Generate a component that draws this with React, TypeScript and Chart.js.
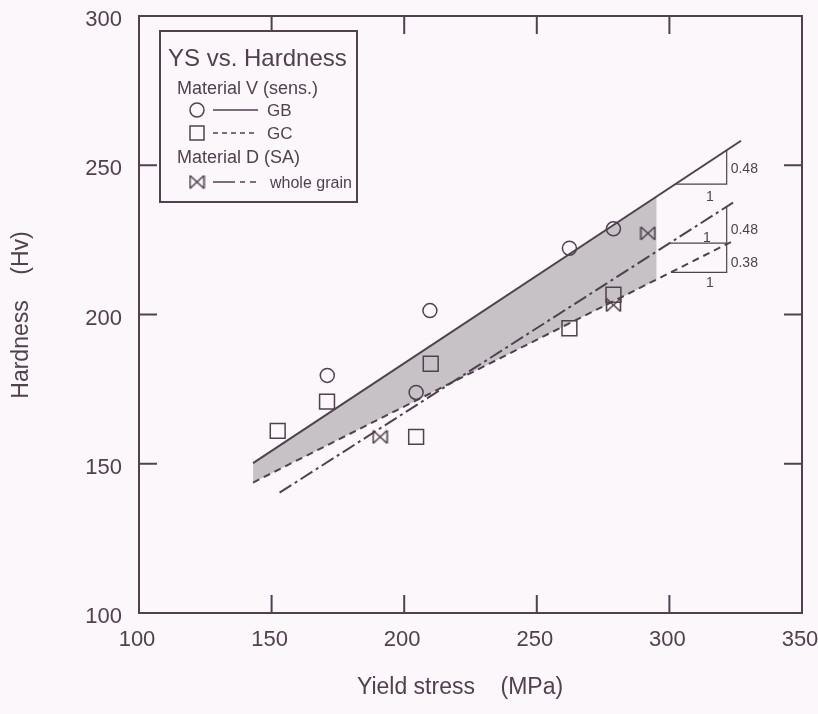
import React, { useEffect, useRef } from 'react';
import { Chart, registerables } from 'chart.js';

Chart.register(...registerables);

const INK = '#52414c';
const BG = '#fbf7fa';
const SHADE = '#c6c2c6';
const FONT = '"Liberation Sans", Arial, sans-serif';

// Material V (sens.) — grain boundary (GB)
const gbStress = [171, 209.7, 204.5, 262.3, 278.9];
const gbHardness = [179.6, 201.3, 173.9, 222.2, 228.7];

// Material V (sens.) — grain centre (GC)
const gcStress = [152.3, 170.9, 210, 204.5, 262.3, 278.9];
const gcHardness = [161, 170.8, 183.5, 159, 195.4, 206.6];

// Material D (SA) — whole grain
const wgStress = [190.9, 278.9, 291.9];
const wgHardness = [159, 203.2, 227.2];

// Fitted lines, end points
const gbFitStress = [143, 327];
const gbFitHardness = [150.2, 258.2];
const gcFitStress = [143, 323.5];
const gcFitHardness = [143.7, 224.4];
const wgFitStress = [153, 324];
const wgFitHardness = [140.3, 237.5];

// Shaded band between the GB and GC fits
const bandStress = [143, 295.2];
const bandUpper = [150.2, 239.5];
const bandLower = [143.7, 211.6];

// Slope triangles: run along the base, rise up the right leg
const triStart = [302.3, 300.1, 300.6];
const triEnd = [321.6, 321.6, 321.6];
const triBase = [243.7, 223.9, 214.1];
const triTop = [255.0, 236.1, 223.5];
const riseLabels = ['0.48', '0.48', '0.38'];
const riseLabelHardness = [248.8, 228.1, 217.2];
const runLabels = ['1', '1', '1'];
const runLabelStress = [315.3, 314.1, 315.3];
const runLabelHardness = [239.4, 225.7, 210.5];

const xTickValues = [100, 150, 200, 250, 300, 350];
const yTickValues = [100, 150, 200, 250, 300];

const pts = (xs: number[], ys: number[]) => xs.map((v, i) => ({ x: v, y: ys[i] }));

function makeBowtie(): HTMLCanvasElement {
  const c = document.createElement('canvas');
  c.width = 17;
  c.height = 15;
  const g = c.getContext('2d')!;
  g.strokeStyle = INK;
  g.lineWidth = 1.6;
  g.beginPath();
  g.moveTo(1.5, 1);
  g.lineTo(1.5, 14);
  g.moveTo(15.5, 1);
  g.lineTo(15.5, 14);
  g.moveTo(1.5, 1);
  g.lineTo(15.5, 14);
  g.moveTo(1.5, 14);
  g.lineTo(15.5, 1);
  g.stroke();
  return c;
}

export default function App() {
  const ref = useRef<HTMLCanvasElement>(null);

  useEffect(() => {
    const canvas = ref.current!;
    const bowtie = makeBowtie();

    const line = (ctx: CanvasRenderingContext2D, x1: number, y1: number, x2: number, y2: number) => {
      ctx.beginPath();
      ctx.moveTo(x1, y1);
      ctx.lineTo(x2, y2);
      ctx.stroke();
    };

    const decor = {
      id: 'decor',
      beforeDraw(chart: any) {
        const ctx = chart.ctx;
        ctx.save();
        ctx.fillStyle = BG;
        ctx.fillRect(0, 0, chart.width, chart.height);
        ctx.restore();
      },
      afterDraw(chart: any) {
        const { ctx, chartArea: a } = chart;
        const xs = chart.scales.x;
        const ys = chart.scales.y;
        ctx.save();
        ctx.strokeStyle = INK;
        ctx.fillStyle = INK;

        // frame and inward ticks
        ctx.lineWidth = 2;
        ctx.strokeRect(a.left, a.top, a.right - a.left, a.bottom - a.top);
        const TL = 18;
        xTickValues.slice(1, -1).forEach((v) => {
          const px = xs.getPixelForValue(v);
          line(ctx, px, a.bottom, px, a.bottom - TL);
          line(ctx, px, a.top, px, a.top + TL);
        });
        yTickValues.slice(1, -1).forEach((v) => {
          const py = ys.getPixelForValue(v);
          line(ctx, a.left, py, a.left + TL, py);
          line(ctx, a.right, py, a.right - TL, py);
        });

        // slope annotations
        ctx.font = `14px ${FONT}`;
        ctx.textBaseline = 'middle';
        riseLabels.forEach((t, i) => {
          ctx.textAlign = 'left';
          ctx.fillText(t, xs.getPixelForValue(triEnd[i]) + 4, ys.getPixelForValue(riseLabelHardness[i]));
          ctx.textAlign = 'center';
          ctx.fillText(runLabels[i], xs.getPixelForValue(runLabelStress[i]), ys.getPixelForValue(runLabelHardness[i]));
        });

        // axis titles
        ctx.font = `23px ${FONT}`;
        ctx.textAlign = 'center';
        ctx.textBaseline = 'middle';
        ctx.fillText('Yield stress    (MPa)', 460, 688);
        ctx.save();
        ctx.translate(22, 315);
        ctx.rotate(-Math.PI / 2);
        ctx.fillText('Hardness    (Hv)', 0, 0);
        ctx.restore();

        // legend box
        ctx.lineWidth = 2;
        ctx.fillStyle = BG;
        ctx.fillRect(160, 31, 197, 171);
        ctx.strokeRect(160, 31, 197, 171);
        ctx.fillStyle = INK;
        ctx.textAlign = 'left';
        ctx.textBaseline = 'alphabetic';
        ctx.font = `24px ${FONT}`;
        ctx.fillText('YS vs. Hardness', 168, 66);
        ctx.font = `18px ${FONT}`;
        ctx.fillText('Material V (sens.)', 177, 94);
        ctx.fillText('Material D (SA)', 177, 163);
        ctx.font = `17px ${FONT}`;
        ctx.fillText('GB', 267, 116);
        ctx.fillText('GC', 267, 139);
        ctx.font = `16px ${FONT}`;
        ctx.fillText('whole grain', 270, 188);

        ctx.lineWidth = 1.5;
        ctx.beginPath();
        ctx.arc(197, 110, 7, 0, Math.PI * 2);
        ctx.stroke();
        ctx.strokeRect(190, 126, 14, 14);
        ctx.drawImage(bowtie, 197 - 8.5, 182 - 7.5);

        ctx.lineWidth = 1.6;
        line(ctx, 213, 110, 258, 110);
        ctx.setLineDash([5, 4]);
        line(ctx, 213, 133, 258, 133);
        ctx.setLineDash([22, 5, 5, 5, 6, 5]);
        line(ctx, 213, 182, 257, 182);
        ctx.setLineDash([]);
        ctx.restore();
      },
    };

    const fitLine = (xs: number[], ys: number[], dash: number[]) => ({
      data: pts(xs, ys),
      showLine: true,
      borderColor: INK,
      borderWidth: 2,
      borderDash: dash,
      pointRadius: 0,
      fill: false,
    });

    const triangle = (i: number) => ({
      data: [
        { x: triStart[i], y: triBase[i] },
        { x: triEnd[i], y: triBase[i] },
        { x: triEnd[i], y: triTop[i] },
      ],
      showLine: true,
      borderColor: INK,
      borderWidth: 1.2,
      pointRadius: 0,
      fill: false,
    });

    const chart = new Chart(canvas, {
      type: 'line',
      data: {
        datasets: [
          {
            data: pts(bandStress, bandUpper),
            showLine: true,
            borderWidth: 0,
            borderColor: 'rgba(0,0,0,0)',
            pointRadius: 0,
            fill: false,
          },
          {
            data: pts(bandStress, bandLower),
            showLine: true,
            borderWidth: 0,
            borderColor: 'rgba(0,0,0,0)',
            backgroundColor: SHADE,
            pointRadius: 0,
            fill: '-1',
          },
          fitLine(gbFitStress, gbFitHardness, []),
          fitLine(gcFitStress, gcFitHardness, [7, 5]),
          fitLine(wgFitStress, wgFitHardness, [14, 4, 3, 4]),
          triangle(0),
          triangle(1),
          triangle(2),
          {
            label: 'GB',
            data: pts(gbStress, gbHardness),
            showLine: false,
            pointStyle: 'circle',
            pointRadius: 7,
            pointBorderWidth: 1.5,
            pointBorderColor: INK,
            pointBackgroundColor: 'rgba(0,0,0,0)',
          },
          {
            label: 'GC',
            data: pts(gcStress, gcHardness),
            showLine: false,
            pointStyle: 'rect',
            pointRadius: 10.5,
            pointBorderWidth: 1.5,
            pointBorderColor: INK,
            pointBackgroundColor: 'rgba(0,0,0,0)',
          },
          {
            label: 'whole grain',
            data: pts(wgStress, wgHardness),
            showLine: false,
            pointStyle: bowtie,
            pointRadius: 8,
          },
        ] as any,
      },
      options: {
        animation: false,
        responsive: false,
        events: [],
        layout: { padding: { top: 16, right: 16, left: 0, bottom: 0 } },
        plugins: {
          legend: { display: false },
          tooltip: { enabled: false },
          filler: { drawTime: 'beforeDatasetsDraw' },
        },
        scales: {
          x: {
            type: 'linear',
            min: 100,
            max: 350,
            grid: { display: false, drawTicks: false },
            border: { display: false },
            ticks: {
              stepSize: 50,
              autoSkip: false,
              maxRotation: 0,
              padding: 14,
              labelOffset: -2,
              color: INK,
              font: { family: FONT, size: 22 },
            },
            afterFit(s: any) {
              s.height = 101;
              s.paddingLeft = 0;
              s.paddingRight = 0;
            },
          },
          y: {
            type: 'linear',
            min: 100,
            max: 300,
            grid: { display: false, drawTicks: false },
            border: { display: false },
            ticks: {
              stepSize: 50,
              autoSkip: false,
              padding: 17,
              labelOffset: 4,
              color: INK,
              font: { family: FONT, size: 22 },
            },
            afterFit(s: any) {
              s.width = 139;
              s.paddingTop = 0;
              s.paddingBottom = 0;
            },
          },
        },
      } as any,
      plugins: [decor],
    });

    return () => chart.destroy();
  }, []);

  return (
    <div style={{ position: 'fixed', left: 0, top: 0, width: 818, height: 714, background: BG }}>
      <canvas ref={ref} width={818} height={714} style={{ display: 'block' }} />
    </div>
  );
}
